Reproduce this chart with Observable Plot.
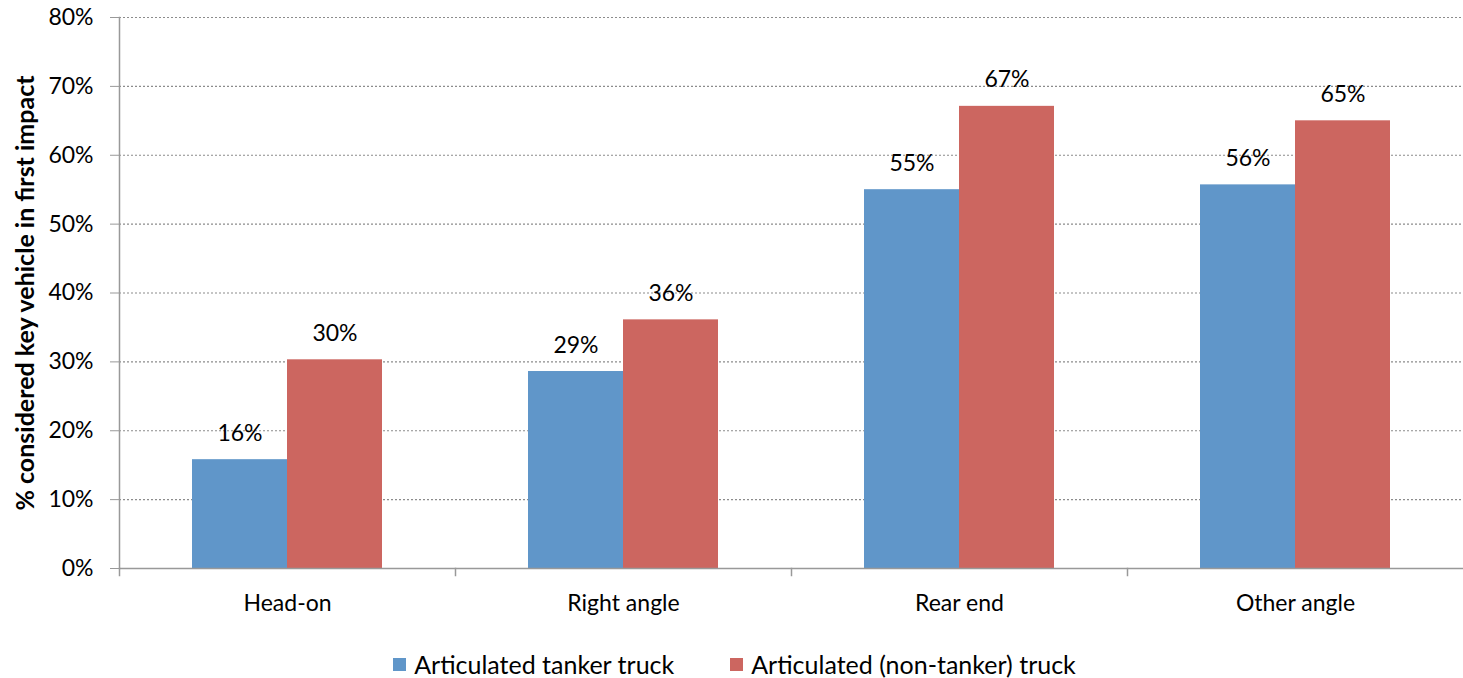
<!DOCTYPE html>
<html><head><meta charset="utf-8">
<script src="https://cdn.jsdelivr.net/npm/d3@7"></script>
<script src="https://cdn.jsdelivr.net/npm/@observablehq/plot@0.6"></script>
<style>
body{margin:0;background:#fff;font-family:Lato,sans-serif;width:1463px;overflow:hidden}
#chart svg{display:block}
g[aria-label="y-axis label"] text{font-weight:bold;font-size:25px}
.legend{display:flex;justify-content:center;align-items:center;height:28px;line-height:28px;padding-top:10px;font-size:25px;color:#000;padding-left:6px}
.legend .item{display:flex;align-items:center;margin:0 28px}
.legend .sw{width:13px;height:13px;margin-right:8px}
</style></head><body><div id="chart"></div><div class="legend" id="legend"></div><script>
const categories = ["Head-on", "Right angle", "Rear end", "Other angle"];
const seriesNames = ["Articulated tanker truck", "Articulated (non-tanker) truck"];
const tankerValues = [15.8, 28.6, 55.0, 55.7];
const nonTankerValues = [30.3, 36.1, 67.1, 65.0];
const yTicks = [0, 10, 20, 30, 40, 50, 60, 70, 80];
const colors = ["#6096C9", "#CC6660"];
const yLabel = "% considered key vehicle in first impact";

const data = categories.flatMap((c, i) => [
  {category: c, series: seriesNames[0], value: tankerValues[i]},
  {category: c, series: seriesNames[1], value: nonTankerValues[i]}
]);

const plot = Plot.plot({
  width: 1463, height: 640,
  marginLeft: 119, marginRight: 0, marginTop: 17, marginBottom: 72,
  style: {fontFamily: "Lato, sans-serif", fontSize: "23px", color: "#000", background: "#fff", overflow: "visible"},
  fx: {domain: categories, padding: 0},
  x: {domain: seriesNames, paddingInner: 0, paddingOuter: 0.755, axis: null},
  y: {domain: [0, 80]},
  color: {domain: seriesNames, range: colors},
  marks: [
    Plot.gridY(yTicks, {stroke: "#8c8c8c", strokeOpacity: 1, strokeDasharray: "2,2", strokeWidth: 1.2}),
    Plot.barY(data, {fx: "category", x: "series", y: "value", fill: "series"}),
    Plot.text(data, {fx: "category", x: "series", y: "value", text: d => Math.round(d.value) + "%", lineAnchor: "bottom", dy: -19, fontSize: 23}),
    Plot.ruleY([0], {stroke: "#999", strokeWidth: 1.5}),
    Plot.frame({anchor: "left", stroke: "#999", strokeWidth: 1.5, facetAnchor: "left"}),
    Plot.frame({anchor: "left", stroke: "#999", strokeWidth: 1.5, insetTop: 551, insetBottom: -7}),
    Plot.axisY(yTicks, {tickFormat: d => d + "%", tickSize: 9, tickPadding: 17, stroke: "#999", label: yLabel, labelArrow: "none", labelAnchor: "center", labelOffset: 103}),
    Plot.axisFx({anchor: "bottom", tickSize: 0, tickPadding: 26, label: null})
  ]
});
document.getElementById("chart").appendChild(plot);

const legend = document.getElementById("legend");
seriesNames.forEach((s, i) => {
  const item = document.createElement("div");
  item.className = "item";
  const sw = document.createElement("span");
  sw.className = "sw";
  sw.style.background = colors[i];
  const t = document.createElement("span");
  t.textContent = s;
  item.appendChild(sw); item.appendChild(t);
  legend.appendChild(item);
});
</script></body></html>
